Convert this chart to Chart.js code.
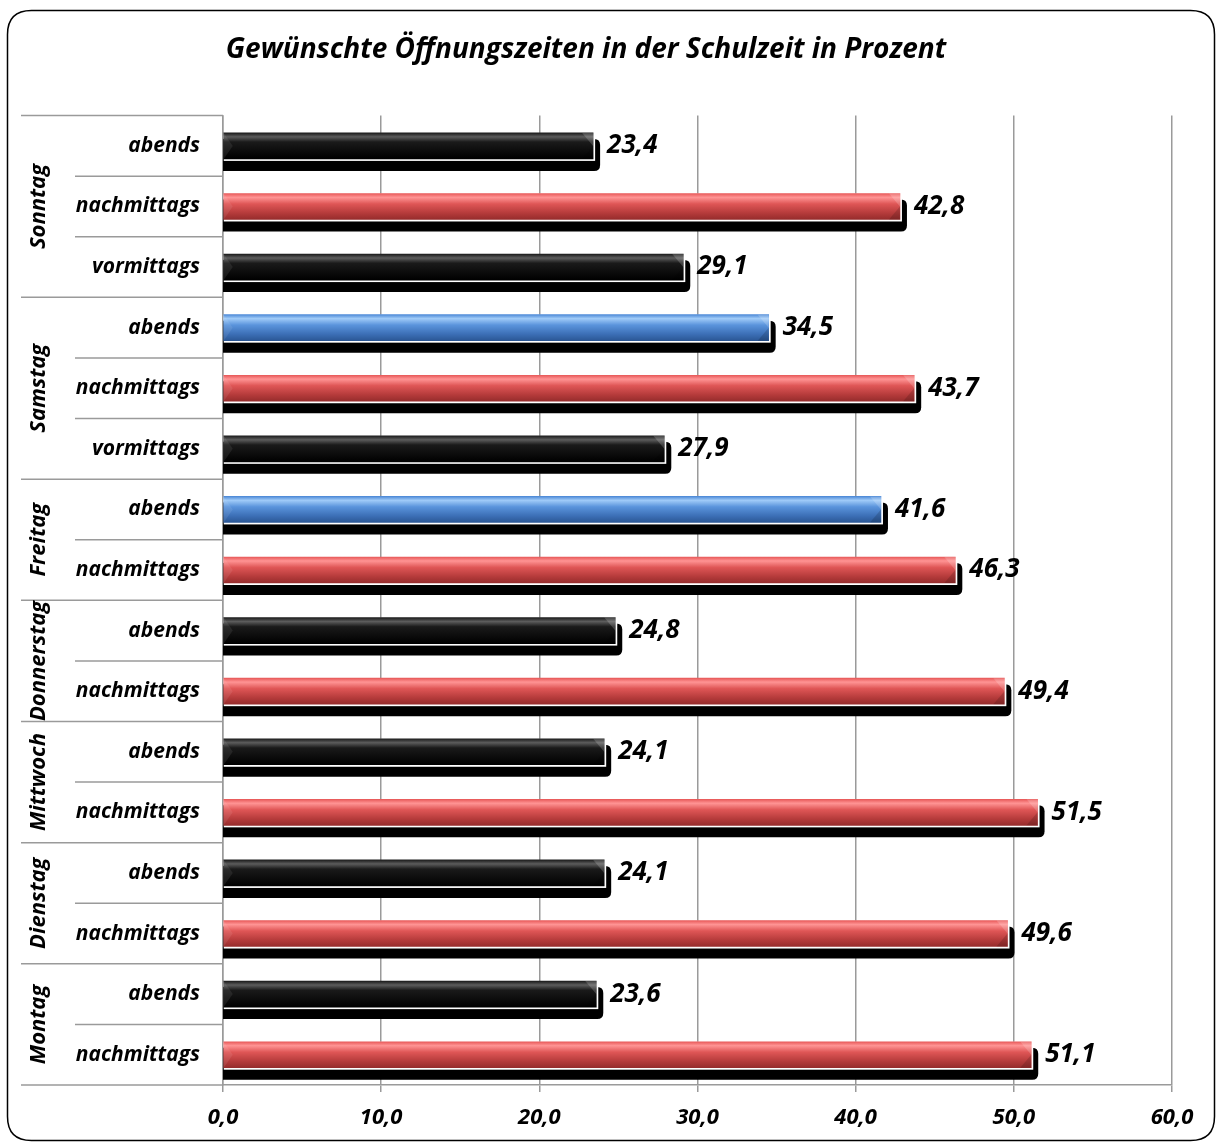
<!DOCTYPE html>
<html>
<head>
<meta charset="utf-8">
<script src="https://cdn.jsdelivr.net/npm/chart.js@4/dist/chart.umd.min.js"></script>
<style>
  html, body { margin: 0; padding: 0; background: #fff; }
  #wrap { width: 1221px; height: 1144px; }
</style>
</head>
<body>
<div id="wrap"><canvas id="canvas"></canvas></div>
<script>
// Daten, von oben nach unten wie im Bild
const tageszeiten = ['abends', 'nachmittags', 'vormittags',
                     'abends', 'nachmittags', 'vormittags',
                     'abends', 'nachmittags',
                     'abends', 'nachmittags',
                     'abends', 'nachmittags',
                     'abends', 'nachmittags',
                     'abends', 'nachmittags']
const tage = ['Sonntag', 'Sonntag', 'Sonntag',
              'Samstag', 'Samstag', 'Samstag',
              'Freitag', 'Freitag',
              'Donnerstag', 'Donnerstag',
              'Mittwoch', 'Mittwoch',
              'Dienstag', 'Dienstag',
              'Montag', 'Montag']
const werte = [23.4, 42.8, 29.1, 34.5, 43.7, 27.9, 41.6, 46.3, 24.8, 49.4, 24.1, 51.5, 24.1, 49.6, 23.6, 51.1]
const farben = ['schwarz', 'rot', 'schwarz', 'blau', 'rot', 'schwarz', 'blau', 'rot',
                'schwarz', 'rot', 'schwarz', 'rot', 'schwarz', 'rot', 'schwarz', 'rot']
const xTicks = [0, 10, 20, 30, 40, 50, 60]

const FONT = '"Open Sans", "Noto Sans", sans-serif'
const BAR_H = 26
const komma = v => Number(v).toFixed(1).replace('.', ',')

const verlauf = {
    schwarz: [[0, '#1c1c1c'], [0.15, '#5c5c5c'], [0.35, '#1a1a1a'], [1, '#000000']],
    rot: [[0, '#e85a5a'], [0.15, '#ff9494'], [0.4, '#df5656'], [0.75, '#b53b3b'], [1, '#962c2c']],
    blau: [[0, '#4f8bd8'], [0.15, '#a0cbf8'], [0.4, '#5a94dc'], [0.75, '#3c6fb6'], [1, '#2b5795']]
}

const barFill = (context) => {
    const chart = context.chart
    const key = farben[context.dataIndex]
    const y = chart.scales.y
    if (!chart.chartArea || !y) return verlauf[key][2][1]
    const yc = y.getPixelForValue(context.dataIndex)
    const g = chart.ctx.createLinearGradient(0, yc - BAR_H / 2, 0, yc + BAR_H / 2)
    verlauf[key].forEach(([p, c]) => g.addColorStop(p, c))
    return g
}

const roundRect = (ctx, x, y, w, h, r) => {
    ctx.beginPath()
    ctx.moveTo(x + r, y)
    ctx.lineTo(x + w - r, y)
    ctx.quadraticCurveTo(x + w, y, x + w, y + r)
    ctx.lineTo(x + w, y + h - r)
    ctx.quadraticCurveTo(x + w, y + h, x + w - r, y + h)
    ctx.lineTo(x + r, y + h)
    ctx.quadraticCurveTo(x, y + h, x, y + h - r)
    ctx.lineTo(x, y + r)
    ctx.quadraticCurveTo(x, y, x + r, y)
    ctx.closePath()
}

// Schatten + weisser Rand hinter den Balken
const schattenPlugin = {
    id: 'schatten',
    beforeDatasetsDraw(chart) {
        const ctx = chart.ctx
        const area = chart.chartArea
        ctx.save()
        ctx.beginPath()
        ctx.rect(area.left, area.top - 5, area.right - area.left + 40, area.bottom - area.top + 10)
        ctx.clip()
        chart.getDatasetMeta(0).data.forEach(bar => {
            const top = bar.y - bar.height / 2
            const bottom = bar.y + bar.height / 2
            ctx.fillStyle = '#000'
            roundRect(ctx, bar.base - 10, top + 6, bar.x + 7 - bar.base + 10, bottom + 12 - top - 6, 6)
            ctx.fill()
            ctx.fillStyle = '#fff'
            ctx.fillRect(bar.base, top, bar.x - bar.base + 2, bar.height + 2)
        })
        ctx.restore()
    },
    afterDatasetsDraw(chart) {
        const ctx = chart.ctx
        ctx.save()
        chart.getDatasetMeta(0).data.forEach((bar, i) => {
            const top = bar.y - bar.height / 2
            const bottom = bar.y + bar.height / 2
            // kleine Fase an den Enden
            ctx.fillStyle = 'rgba(255,255,255,0.18)'
            ctx.beginPath()
            ctx.moveTo(bar.x - 11, top)
            ctx.lineTo(bar.x, top)
            ctx.lineTo(bar.x, top + 13)
            ctx.closePath()
            ctx.fill()
            ctx.fillStyle = 'rgba(0,0,0,0.15)'
            ctx.beginPath()
            ctx.moveTo(bar.x, top + 13)
            ctx.lineTo(bar.x, bottom)
            ctx.lineTo(bar.x - 11, bottom)
            ctx.closePath()
            ctx.fill()
            ctx.fillStyle = 'rgba(255,255,255,0.08)'
            ctx.beginPath()
            ctx.moveTo(bar.base, top)
            ctx.lineTo(bar.base + 9, bar.y)
            ctx.lineTo(bar.base, bottom)
            ctx.closePath()
            ctx.fill()
            // Wertbeschriftung
            ctx.fillStyle = '#000'
            ctx.font = 'italic bold 26px ' + FONT
            ctx.textAlign = 'left'
            ctx.textBaseline = 'middle'
            ctx.fillText(komma(werte[i]), bar.x + 14, bar.y)
        })
        ctx.restore()
    }
}

// Gruppierte Achse links, Trennlinien, Rahmen
const achsePlugin = {
    id: 'achse',
    beforeDraw(chart) {
        const ctx = chart.ctx
        ctx.save()
        ctx.fillStyle = '#fff'
        ctx.fillRect(0, 0, chart.width, chart.height)
        ctx.restore()
    },
    afterDraw(chart) {
        const ctx = chart.ctx
        const area = chart.chartArea
        const y = chart.scales.y
        const links = 21, innen = 75, achse = area.left
        ctx.save()
        ctx.strokeStyle = '#9a9a9a'
        ctx.lineWidth = 1.5
        const linie = (x1, x2, yy) => {
            ctx.beginPath()
            ctx.moveTo(x1, yy)
            ctx.lineTo(x2, yy)
            ctx.stroke()
        }
        linie(links, achse, area.top)
        linie(links, achse, area.bottom)
        for (let i = 0; i < tage.length - 1; i++) {
            const yy = (y.getPixelForValue(i) + y.getPixelForValue(i + 1)) / 2
            linie(tage[i] === tage[i + 1] ? innen : links, achse, yy)
        }
        // Tagesnamen gedreht
        ctx.fillStyle = '#000'
        ctx.font = 'italic bold 22px ' + FONT
        ctx.textAlign = 'center'
        ctx.textBaseline = 'middle'
        let start = 0
        for (let i = 1; i <= tage.length; i++) {
            if (i === tage.length || tage[i] !== tage[start]) {
                const y1 = y.getPixelForValue(start) - 30
                const y2 = y.getPixelForValue(i - 1) + 30
                ctx.save()
                ctx.translate(39, (y1 + y2) / 2)
                ctx.rotate(-Math.PI / 2)
                ctx.fillText(tage[start], 0, 0)
                ctx.restore()
                start = i
            }
        }
        // Aussenrahmen
        ctx.strokeStyle = '#000'
        ctx.lineWidth = 1.5
        roundRect(ctx, 7.5, 10.5, 1207, 1130, 24)
        ctx.stroke()
        ctx.restore()
    }
}

Chart.register(schattenPlugin, achsePlugin)

new Chart(document.getElementById('canvas'), {
    type: 'bar',
    data: {
        labels: tageszeiten,
        datasets: [{
            label: 'Prozent',
            data: werte,
            backgroundColor: barFill,
            borderWidth: 0,
            barThickness: BAR_H
        }]
    },
    options: {
        indexAxis: 'y',
        responsive: true,
        maintainAspectRatio: false,
        animation: false,
        layout: { padding: { left: 0, right: 49, top: 0, bottom: 10 } },
        plugins: {
            legend: { display: false },
            tooltip: { enabled: false },
            title: {
                display: true,
                text: 'Gewünschte Öffnungszeiten in der Schulzeit in Prozent',
                color: '#000',
                font: { family: FONT, size: 28, weight: 'bold', style: 'italic' },
                padding: { top: 33, bottom: 49 }
            }
        },
        scales: {
            x: {
                min: xTicks[0],
                max: xTicks[xTicks.length - 1],
                afterBuildTicks: scale => { scale.ticks = xTicks.map(v => ({ value: v })) },
                afterFit: scale => { scale.height = 49 },
                grid: { color: '#9a9a9a', lineWidth: 1.5, tickLength: 7, drawOnChartArea: true },
                border: { color: '#9a9a9a', width: 1.5 },
                ticks: {
                    color: '#000',
                    padding: 13,
                    maxRotation: 0,
                    font: { family: FONT, size: 22, weight: 'bold', style: 'italic' },
                    callback: v => komma(v)
                }
            },
            y: {
                afterFit: scale => { scale.width = 223 },
                grid: { display: false, drawTicks: false },
                border: { color: '#9a9a9a', width: 1.5 },
                ticks: {
                    color: '#000',
                    padding: 23,
                    font: { family: FONT, size: 21, weight: 'bold', style: 'italic' }
                }
            }
        }
    }
})
</script>
</body>
</html>
